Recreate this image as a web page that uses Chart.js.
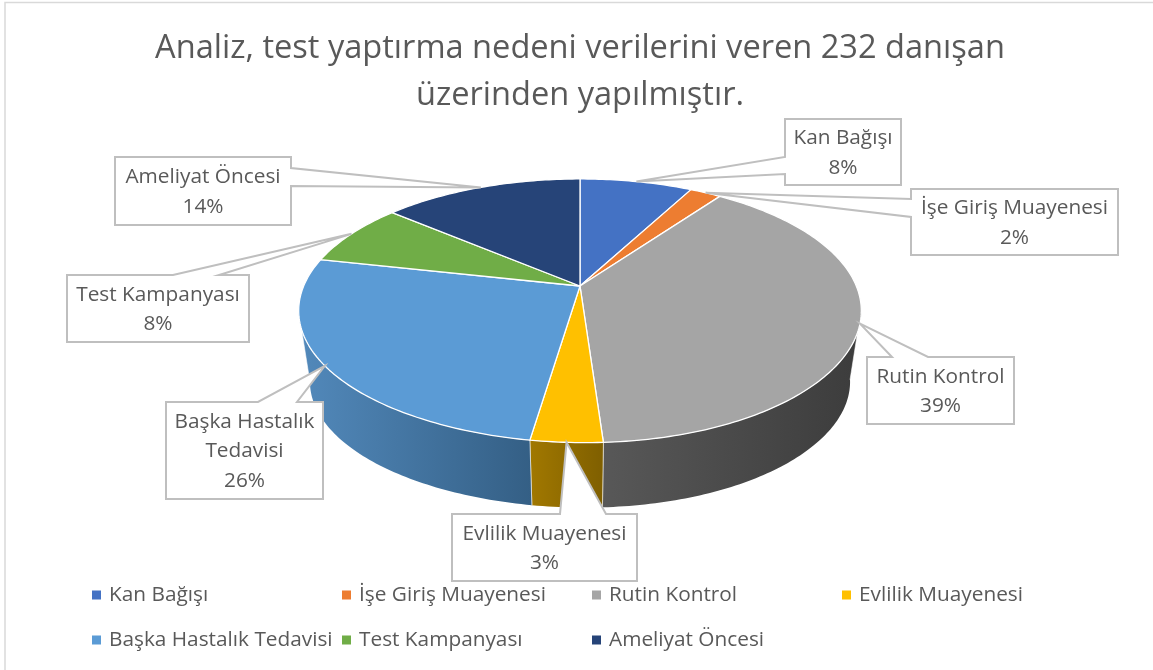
<!DOCTYPE html>
<html lang="tr">
<head>
<meta charset="utf-8">
<style>html,body{margin:0;padding:0;background:#fff}canvas{display:block}</style>
<script src="https://cdn.jsdelivr.net/npm/chart.js@4"></script>
</head>
<body>
<canvas id="c" width="1153" height="670"></canvas>
<script>
const categories = ['Kan Bağışı','İşe Giriş Muayenesi','Rutin Kontrol','Evlilik Muayenesi','Başka Hastalık Tedavisi','Test Kampanyası','Ameliyat Öncesi'];
const counts = [18,5,91,8,60,18,32];
const sliceColors = ['#4472C4','#ED7D31','#A5A5A5','#FFC000','#5B9BD5','#70AD47','#264478'];
const wallFrom = ['#2f5597','#a5561f','#585858','#a17800','#5289bb','#4e7a32','#1a2f54'];
const wallTo = ['#2f5597','#a5561f','#3c3c3c','#7f5f00','#345f85','#4e7a32','#1a2f54'];
const titleLines = ['Analiz, test yaptırma nedeni verilerini veren 232 danışan','üzerinden yapılmıştır.'];
const labelLines = [['Kan Bağışı'],['İşe Giriş Muayenesi'],['Rutin Kontrol'],['Evlilik Muayenesi'],['Başka Hastalık','Tedavisi'],['Test Kampanyası'],['Ameliyat Öncesi']];

const FONT = '"Open Sans"';
const INK = '#595959';
const geo = {cx:580, cy:286, b:276.3, a:127.2, k:-0.188, lowX:0.96, lowY:0.955, lowCy:358};
const boxes = [
  {x0:785,y0:119,x1:901,y1:185,side:'left',p:157,q:174},
  {x0:911,y0:189,x1:1118,y1:255,side:'left',p:199,q:217},
  {x0:867,y0:357,x1:1014,y1:424,side:'top',p:892,q:928},
  {x0:452,y0:514,x1:637,y1:581,side:'top',p:560,q:606},
  {x0:166,y0:402,x1:323,y1:499,side:'top',p:258,q:297},
  {x0:67,y0:275,x1:249,y1:342,side:'top',p:173,q:219},
  {x0:115,y0:157,x1:291,y1:225,side:'right',p:168,q:186}
];
const legendCols = [92,342,592,842];
const legendRows = [595,640];

function rim(theta){
  const u=Math.sin(theta), v=-Math.cos(theta), d=1+geo.k*v;
  const bend=5*Math.pow(Math.max(v,0),4);
  return {X:geo.b*u/d+bend, Y:geo.a*v/d};
}
function topPt(theta){const r=rim(theta);return [geo.cx+r.X, geo.cy+r.Y];}
function lowPt(theta){const r=rim(theta);return [geo.cx+geo.lowX*r.X, geo.lowCy+geo.lowY*r.Y];}
function samples(s,e){const n=Math.max(2,Math.ceil((e-s)*60));const o=[];for(let i=0;i<=n;i++)o.push(s+(e-s)*i/n);return o;}

const pie3d = {
  id:'pie3d',
  beforeDraw(chart){
    const c=chart.ctx;
    c.save();c.fillStyle='#fff';c.fillRect(0,0,chart.width,chart.height);
    c.strokeStyle='#d9d9d9';c.lineWidth=1.5;
    c.beginPath();c.moveTo(5,chart.height);c.lineTo(5,2.5);c.lineTo(chart.width,2.5);c.stroke();
    c.restore();
  },
  beforeDatasetDraw(chart,args){
    const c=chart.ctx, arcs=chart.getDatasetMeta(args.index).data;
    const V0=100*Math.PI/180, V1=259*Math.PI/180;
    c.save();c.lineJoin='round';
    arcs.forEach((a,i)=>{
      const s=Math.max(a.startAngle+Math.PI/2,V0), e=Math.min(a.endAngle+Math.PI/2,V1);
      if(e<=s) return;
      const th=samples(s,e), t=th.map(topPt), l=th.map(lowPt).reverse();
      const xs=t.concat(l).map(p=>p[0]);
      const g=c.createLinearGradient(Math.min(...xs),0,Math.max(...xs),0);
      g.addColorStop(0,wallFrom[i]);g.addColorStop(1,wallTo[i]);
      c.beginPath();
      t.concat(l).forEach((p,j)=>j?c.lineTo(p[0],p[1]):c.moveTo(p[0],p[1]));
      c.closePath();c.fillStyle=g;c.fill();
      c.strokeStyle='rgba(255,255,255,0.55)';c.lineWidth=1;
      c.beginPath();c.moveTo(t[0][0],t[0][1]);c.lineTo(l[l.length-1][0],l[l.length-1][1]);
      c.moveTo(t[t.length-1][0],t[t.length-1][1]);c.lineTo(l[0][0],l[0][1]);c.stroke();
    });
    arcs.forEach((a,i)=>{
      const th=samples(a.startAngle+Math.PI/2,a.endAngle+Math.PI/2);
      c.beginPath();c.moveTo(geo.cx,geo.cy);
      th.map(topPt).forEach(p=>c.lineTo(p[0],p[1]));
      c.closePath();c.fillStyle=sliceColors[i];c.fill();
      c.strokeStyle='#fff';c.lineWidth=1.3;c.stroke();
    });
    c.restore();
    return false;
  },
  afterDatasetsDraw(chart){
    const c=chart.ctx, arcs=chart.getDatasetMeta(0).data, total=counts.reduce((x,y)=>x+y,0);
    c.save();
    arcs.forEach((a,i)=>{
      const tip=topPt((a.startAngle+a.endAngle)/2+Math.PI/2), b=boxes[i];
      let pts;
      if(b.side==='top') pts=[[b.x0,b.y0],[b.p,b.y0],tip,[b.q,b.y0],[b.x1,b.y0],[b.x1,b.y1],[b.x0,b.y1]];
      else if(b.side==='left') pts=[[b.x0,b.y0],[b.x1,b.y0],[b.x1,b.y1],[b.x0,b.y1],[b.x0,b.q],tip,[b.x0,b.p]];
      else pts=[[b.x0,b.y0],[b.x1,b.y0],[b.x1,b.p],tip,[b.x1,b.q],[b.x1,b.y1],[b.x0,b.y1]];
      c.beginPath();pts.forEach((p,j)=>j?c.lineTo(p[0],p[1]):c.moveTo(p[0],p[1]));c.closePath();
      c.fillStyle='#fff';c.fill();c.strokeStyle='#bfbfbf';c.lineWidth=2;c.stroke();
      const lines=labelLines[i].concat(Math.round(counts[i]/total*100)+'%');
      c.fillStyle=INK;c.font='20.8px '+FONT;c.textAlign='center';c.textBaseline='middle';
      const mid=(b.y0+b.y1)/2+1;
      lines.forEach((t,j)=>c.fillText(t,(b.x0+b.x1)/2,mid+(j-(lines.length-1)/2)*29.3));
    });
    c.font='20.8px '+FONT;c.textAlign='left';c.textBaseline='middle';
    categories.forEach((t,i)=>{
      const col=i<4?i:i-4, row=i<4?0:1, x=legendCols[col], y=legendRows[row];
      c.fillStyle=sliceColors[i];c.fillRect(x,y-4.5,9,9);
      c.fillStyle=INK;c.fillText(t,x+17,y);
    });
    c.restore();
  }
};

new Chart(document.getElementById('c'),{
  type:'pie',
  data:{labels:categories,datasets:[{data:counts,backgroundColor:sliceColors}]},
  options:{
    responsive:false,animation:false,
    layout:{padding:{left:7}},
    plugins:{
      legend:{display:false},tooltip:{enabled:false},
      title:{display:true,text:titleLines,color:INK,font:{family:FONT,size:32.6,weight:'normal',lineHeight:1.44},padding:{top:25,bottom:10}}
    }
  },
  plugins:[pie3d]
});
</script>
</body>
</html>
